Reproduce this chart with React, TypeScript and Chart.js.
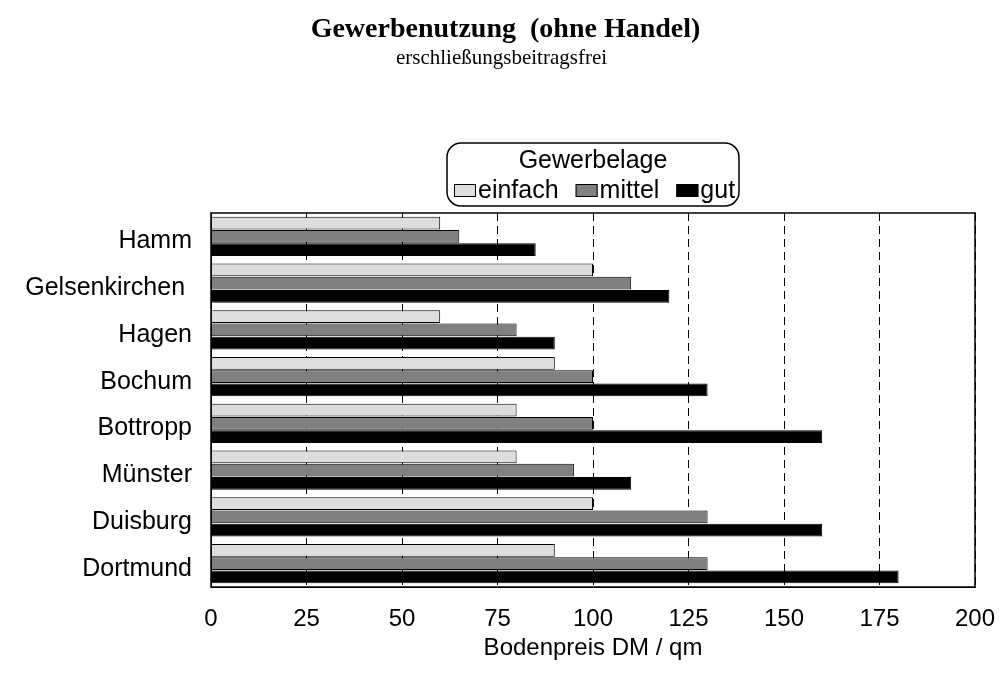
import React, { useEffect, useRef } from 'react';
import { Chart, registerables } from 'chart.js';
Chart.register(...registerables);

const cities = ['Hamm', 'Gelsenkirchen ', 'Hagen', 'Bochum', 'Bottropp', 'Münster', 'Duisburg', 'Dortmund'];
const einfach = [60, 100, 60, 90, 80, 80, 100, 90];
const mittel = [65, 110, 80, 100, 100, 95, 130, 130];
const gut = [85, 120, 90, 130, 160, 110, 160, 180];
const seriesNames = ['einfach', 'mittel', 'gut'];
const seriesColors = ['#dddddd', '#808080', '#000000'];
const legendTitle = 'Gewerbelage';
const titleText = 'Gewerbenutzung  (ohne Handel)';
const subtitleText = 'erschließungsbeitragsfrei';
const xTitle = 'Bodenpreis DM / qm';
const xMin = 0;
const xMax = 200;
const xStep = 25;

const SANS = '"Liberation Sans", Arial, sans-serif';
const SERIF = '"Liberation Serif", "Times New Roman", serif';

const headings = {
  id: 'headings',
  afterDraw(chart: any) {
    const { ctx, width } = chart;
    ctx.save();
    ctx.fillStyle = '#000';
    ctx.textAlign = 'center';
    ctx.textBaseline = 'middle';
    ctx.font = `bold 28px ${SERIF}`;
    ctx.fillText(titleText, width / 2 + 4, 30);
    ctx.font = `21px ${SERIF}`;
    ctx.fillText(subtitleText, width / 2, 58);
    ctx.restore();
  },
};

const boxLegend = {
  id: 'boxLegend',
  afterDraw(chart: any) {
    const { ctx, chartArea } = chart;
    const cx = (chartArea.left + chartArea.right) / 2;
    const w = 292;
    const h = 63;
    const x = cx - w / 2;
    const y = chartArea.top - 70;
    ctx.save();
    ctx.beginPath();
    const r = 14;
    ctx.moveTo(x + r, y);
    ctx.arcTo(x + w, y, x + w, y + h, r);
    ctx.arcTo(x + w, y + h, x, y + h, r);
    ctx.arcTo(x, y + h, x, y, r);
    ctx.arcTo(x, y, x + w, y, r);
    ctx.closePath();
    ctx.fillStyle = '#ffffff';
    ctx.fill();
    ctx.lineWidth = 1.5;
    ctx.strokeStyle = '#000';
    ctx.stroke();
    ctx.fillStyle = '#000';
    ctx.font = `25px ${SANS}`;
    ctx.textAlign = 'center';
    ctx.textBaseline = 'middle';
    ctx.fillText(legendTitle, cx, y + 18);
    ctx.textAlign = 'left';
    let px = x + 7;
    const iy = y + 47;
    chart.data.datasets.forEach((ds: any) => {
      ctx.fillStyle = ds.backgroundColor;
      ctx.fillRect(px, iy - 6, 22, 13);
      ctx.lineWidth = 1;
      ctx.strokeStyle = '#000';
      ctx.strokeRect(px + 0.5, iy - 6 + 0.5, 21, 12);
      ctx.fillStyle = '#000';
      ctx.fillText(ds.label, px + 24, iy + 1);
      px += 24 + ctx.measureText(ds.label).width + 17;
    });
    ctx.restore();
  },
};

const frame = {
  id: 'frame',
  afterDatasetsDraw(chart: any) {
    const { ctx, chartArea } = chart;
    ctx.save();
    ctx.strokeStyle = '#000';
    ctx.lineWidth = 1.5;
    ctx.strokeRect(chartArea.left, chartArea.top, chartArea.right - chartArea.left, chartArea.bottom - chartArea.top);
    ctx.restore();
  },
};

export default function App() {
  const ref = useRef<HTMLCanvasElement>(null);
  useEffect(() => {
    if (!ref.current) return;
    const values = [einfach, mittel, gut];
    const chart = new Chart(ref.current, {
      type: 'bar',
      data: {
        labels: cities,
        datasets: seriesNames.map((n, i) => ({
          label: n,
          data: values[i],
          backgroundColor: seriesColors[i],
          borderColor: '#000',
          borderWidth: 1,
          categoryPercentage: 0.85,
          barPercentage: 0.98,
        })),
      },
      options: {
        indexAxis: 'y',
        responsive: false,
        animation: false,
        layout: { padding: { left: 0, right: 28, top: 213, bottom: 10 } },
        plugins: {
          legend: { display: false },
          tooltip: { enabled: false },
          title: { display: false },
        },
        scales: {
          x: {
            min: xMin,
            max: xMax,
            ticks: {
              stepSize: xStep,
              color: '#000',
              font: { family: SANS, size: 24 },
              padding: 18,
            },
            grid: {
              color: '#000',
              lineWidth: 1,
              drawTicks: false,
            },
            border: { display: true, color: '#000', dash: [8, 5] },
            title: {
              display: true,
              text: xTitle,
              color: '#000',
              font: { family: SANS, size: 24 },
              padding: { top: 7, bottom: 0 },
            },
            afterFit: (axis: any) => {
              axis.height = 76;
              axis.paddingLeft = 0;
              axis.paddingRight = 0;
            },
          },
          y: {
            ticks: {
              color: '#000',
              font: { family: SANS, size: 25 },
              padding: 19,
              labelOffset: 5,
            },
            grid: { display: false, drawTicks: false },
            border: { display: true, color: '#000' },
            afterFit: (axis: any) => {
              axis.width = 211;
              axis.paddingTop = 0;
              axis.paddingBottom = 0;
            },
          },
        },
      },
      plugins: [headings, boxLegend, frame],
    });
    return () => chart.destroy();
  }, []);
  return (
    <div style={{ position: 'absolute', left: 0, top: 0, width: 1003, height: 673, background: '#fff' }}>
      <canvas ref={ref} width={1003} height={673} />
    </div>
  );
}
